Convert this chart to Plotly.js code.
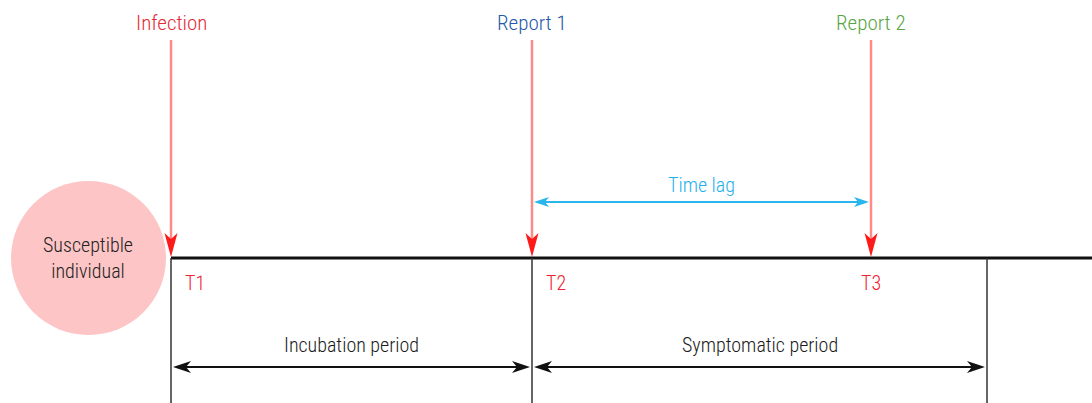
<!DOCTYPE html>
<html>
<head>
<meta charset="utf-8">
<script src="https://cdn.plot.ly/plotly-3.0.1.min.js"></script>
<style>html,body{margin:0;padding:0;background:#fff;}#chart{width:1092px;height:403px;}</style>
</head>
<body>
<div id="chart"></div>
<script>
// Events on the timeline
var eventNames = ["Infection", "Report 1", "Report 2"];
var eventColors = ["#e62a36", "#2458a8", "#57a442"];
var timeLabels = ["T1", "T2", "T3"];
var timePoints = [171, 532, 871];     // timeline positions of T1, T2, T3
var periodEnd = 987;                   // end of symptomatic period
var periodNames = ["Incubation period", "Symptomatic period"];
var lagLabel = "Time lag";
var subjectLabel = "Susceptible<br>individual";

var FONT = "Roboto Condensed, Liberation Sans Narrow, DejaVu Sans Condensed, Roboto, sans-serif";
var WEIGHT = 300;
var W = 1092, H = 403;
var lineY = 258, topY = 40, bottomY = 403, periodY = 367, lagY = 202;

var shapes = [];
var annotations = [];
function f(size, color) { return {family: FONT, size: size, color: color, weight: WEIGHT}; }

// stealth arrowhead as a path; dir = "down" | "left" | "right"
function head(tx, ty, dir, len, half, notch, color) {
  var p;
  if (dir === "down") {
    p = "M" + tx + "," + ty + " L" + (tx - half) + "," + (ty - len) + " L" + tx + "," + (ty - len + notch) +
        " L" + (tx + half) + "," + (ty - len) + " Z";
  } else {
    var s = dir === "right" ? -1 : 1;
    p = "M" + tx + "," + ty + " L" + (tx + s * len) + "," + (ty - half) + " L" + (tx + s * (len - notch)) + "," + ty +
        " L" + (tx + s * len) + "," + (ty + half) + " Z";
  }
  shapes.push({type: "path", xref: "x", yref: "y", path: p, fillcolor: color, line: {width: 0}});
}
function hline(x0, x1, y, color, w) {
  shapes.push({type: "line", xref: "x", yref: "y", x0: x0, x1: x1, y0: y, y1: y, line: {color: color, width: w}});
}

// subject circle
shapes.push({type: "circle", xref: "x", yref: "y", x0: 11, x1: 166, y0: 181, y1: 335,
  fillcolor: "#fdc5c5", line: {width: 0}, layer: "below"});
annotations.push({x: 88, y: 258, xref: "x", yref: "y", text: subjectLabel, showarrow: false,
  font: f(20, "#222"), align: "center"});

// main timeline
hline(timePoints[0], W, lineY, "#111", 3);

// vertical boundaries
var bounds = [timePoints[0], timePoints[1], periodEnd];
bounds.forEach(function (b) {
  shapes.push({type: "line", xref: "x", yref: "y", x0: b, x1: b, y0: lineY, y1: bottomY,
    line: {color: "#333", width: 1.5}});
});

// event arrows and labels
timePoints.forEach(function (t, i) {
  shapes.push({type: "line", xref: "x", yref: "y", x0: t, x1: t, y0: topY, y1: lineY - 14,
    line: {color: "#ff8a8a", width: 2.5}});
  head(t, lineY - 1, "down", 24, 6.5, 6, "#ff1a1a");
  annotations.push({x: t, y: 23, xref: "x", yref: "y", text: eventNames[i], showarrow: false,
    font: f(21, eventColors[i])});
  annotations.push({x: t + (i === 2 ? 0 : 24), y: 283, xref: "x", yref: "y", text: timeLabels[i], showarrow: false,
    font: f(20, "#f0202e")});
});

// period double arrows
var periods = [[timePoints[0], timePoints[1]], [timePoints[1], periodEnd]];
periods.forEach(function (p, i) {
  hline(p[0] + 6, p[1] - 6, periodY, "#111", 2);
  head(p[0] + 2, periodY, "left", 18, 6, 5, "#111");
  head(p[1] - 2, periodY, "right", 18, 6, 5, "#111");
  annotations.push({x: (p[0] + p[1]) / 2, y: 345, xref: "x", yref: "y", text: periodNames[i], showarrow: false,
    font: f(20, "#1a1a1a")});
});

// time lag arrow
hline(timePoints[1] + 6, timePoints[2] - 6, lagY, "#29b5ee", 2);
head(timePoints[1] + 2, lagY, "left", 15, 5, 4, "#29b5ee");
head(timePoints[2] - 2, lagY, "right", 15, 5, 4, "#29b5ee");
annotations.push({x: (timePoints[1] + timePoints[2]) / 2, y: 185, xref: "x", yref: "y", text: lagLabel, showarrow: false,
  font: f(20, "#1fb0ec")});

var layout = {
  width: W, height: H,
  margin: {l: 0, r: 0, t: 0, b: 0},
  paper_bgcolor: "#fff", plot_bgcolor: "#fff",
  xaxis: {range: [0, W], visible: false, fixedrange: true},
  yaxis: {range: [H, 0], visible: false, fixedrange: true},
  shapes: shapes, annotations: annotations, showlegend: false
};
Plotly.newPlot("chart", [], layout, {displayModeBar: false, staticPlot: true});
</script>
</body>
</html>
